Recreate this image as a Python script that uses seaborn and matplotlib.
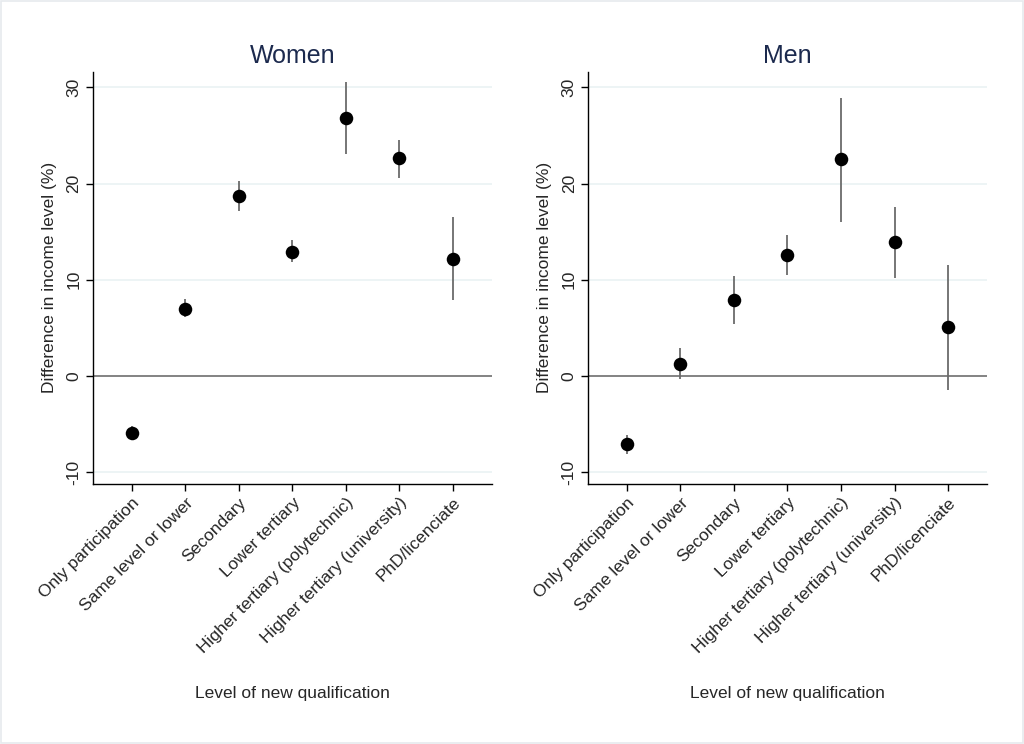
import matplotlib
matplotlib.use("Agg")
import matplotlib.pyplot as plt
import seaborn as sns
import pandas as pd
from matplotlib.patches import Rectangle

categories = ["Only participation", "Same level or lower", "Secondary", "Lower tertiary",
              "Higher tertiary (polytechnic)", "Higher tertiary (university)", "PhD/licenciate"]

women_est = [-5.9, 7.0, 18.7, 12.9, 26.8, 22.6, 12.2]
women_lo = [-6.5, 6.1, 17.1, 11.8, 23.1, 20.6, 7.9]
women_hi = [-5.2, 8.0, 20.3, 14.1, 30.5, 24.5, 16.5]

men_est = [-7.1, 1.3, 7.9, 12.6, 22.5, 13.9, 5.1]
men_lo = [-8.1, -0.3, 5.4, 10.5, 16.0, 10.2, -1.4]
men_hi = [-6.1, 2.9, 10.4, 14.7, 28.9, 17.6, 11.5]

panel_titles = ["Women", "Men"]
yticks = [-10, 0, 10, 20, 30]
ylabel = "Difference in income level (%)"
xlabel = "Level of new qualification"

sns.set_theme(style="white")
plt.rcParams["font.family"] = ["Liberation Sans", "DejaVu Sans"]

fig = plt.figure(figsize=(10.24, 7.44), dpi=100)
fig.patch.set_facecolor("white")
fig.add_artist(Rectangle((0.0008, 0.0008), 0.9984, 0.9984, transform=fig.transFigure,
                         fill=False, edgecolor="#e6eaee", linewidth=1.2))

lefts = [0.0905, 0.574]
panels = [(women_est, women_lo, women_hi), (men_est, men_lo, men_hi)]

for left, title, (est, lo, hi) in zip(lefts, panel_titles, panels):
    ax = fig.add_axes([left, 0.3495, 0.390, 0.554])
    df = pd.DataFrame({"cat": categories, "est": est, "lo": lo, "hi": hi})
    for y in yticks:
        if y != 0:
            ax.axhline(y, color="#eaf2f3", linewidth=1.2, zorder=0)
    ax.axhline(0, color="#6e6e6e", linewidth=1.2, zorder=1)
    ax.vlines(df["cat"], df["lo"], df["hi"], color="#6b6b6b", linewidth=1.3, zorder=2)
    sns.scatterplot(data=df, x="cat", y="est", ax=ax, color="black", s=95,
                    edgecolor="black", linewidth=0, zorder=3)
    ax.set_xlim(-0.73, 6.73)
    ax.set_ylim(-11.2, 31.6)
    ax.set_yticks(yticks)
    ax.set_yticklabels([str(v) for v in yticks], rotation=90, va="center", fontsize=12.5)
    ax.set_xticks(range(len(categories)))
    ax.set_xticklabels(categories, rotation=45, ha="right", rotation_mode="anchor", fontsize=12.5)
    for s in ["top", "right"]:
        ax.spines[s].set_visible(False)
    for s in ["left", "bottom"]:
        ax.spines[s].set_color("black")
        ax.spines[s].set_linewidth(1.0)
    ax.tick_params(axis="both", which="both", direction="out", length=5, width=1.0,
                   color="black", left=True, bottom=True, pad=3)
    ax.set_ylabel(ylabel, fontsize=12.5)
    ax.yaxis.set_label_coords(-0.089, 0.5)
    ax.set_xlabel(xlabel, fontsize=12.5)
    ax.xaxis.set_label_coords(0.5, -0.49)
    ax.set_title(title, fontsize=18, color="#1c2a4e", pad=6)

fig.savefig("out.png", dpi=100, facecolor="white")
